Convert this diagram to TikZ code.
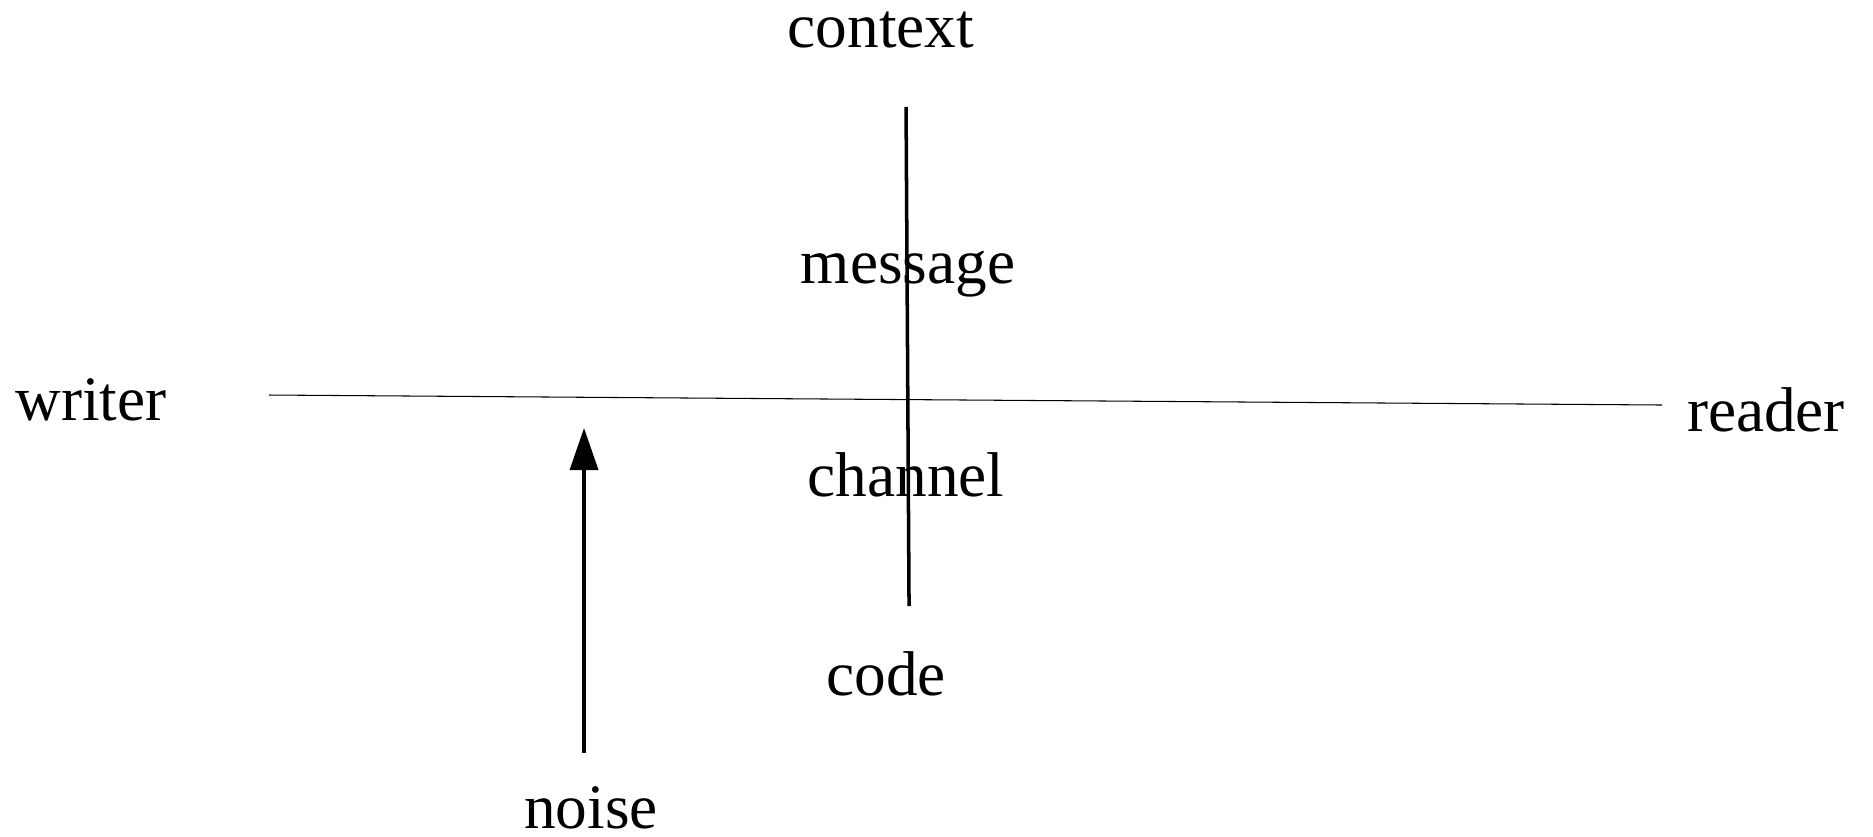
\documentclass[tikz,border=0pt]{standalone}
\usepackage{fontspec}
\setmainfont{Liberation Serif}
\usetikzlibrary{arrows.meta}
\tikzset{
  word/.style={anchor=base,inner sep=0pt,font=\fontsize{18}{22}\selectfont},
}
\begin{document}
\begin{tikzpicture}[x=1mm,y=-1mm,scale=0.1]
                        \useasboundingbox (0,0) rectangle (1873,837);
                        \coordinate (W) at (269,395);
                        \coordinate (R) at (1662,405);
                        \coordinate (T) at (906,107);
                        \coordinate (B) at (909,606);
                        \coordinate (N) at (584,753);
                        \coordinate (M) at (584,428);
                        \draw (881,48) node[word] (context) {context};
                        \draw (908,284) node[word] (message) {message};
                        \draw (91,421) node[word] (writer) {writer};
                        \draw (1766,432) node[word] (reader) {reader};
                        \draw (906,497) node[word] (channel) {channel};
                        \draw (886,696) node[word] (code) {code};
                        \draw (591,829) node[word] (noise) {noise};
                        \draw[line width=0.3pt] (W) -- (R);
                        \draw[line width=1pt] (T) -- (B);
                        \draw[line width=1pt,-{Triangle[length=4.2mm,width=2.8mm]}] (N) -- (M);
                    \end{tikzpicture}
\end{document}
